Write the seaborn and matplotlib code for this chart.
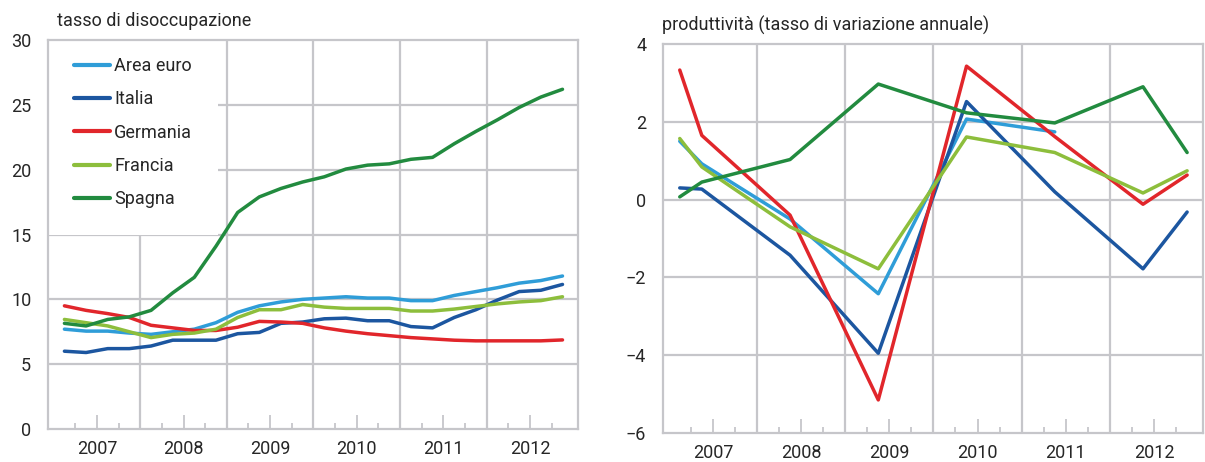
import numpy as np
import pandas as pd
import seaborn as sb
import matplotlib.pyplot as plt
from matplotlib.ticker import FixedLocator, NullFormatter

# serie trimestrali 2007Q1 - 2012Q4
trimestri = [f"{a}Q{q}" for a in range(2007, 2013) for q in range(1, 5)]

area_euro = [7.7, 7.55, 7.55, 7.4, 7.3, 7.5, 7.7, 8.2, 9.0, 9.5, 9.8, 10.0,
             10.1, 10.2, 10.1, 10.1, 9.9, 9.9, 10.3, 10.6, 10.9, 11.25, 11.45, 11.8]
italia = [6.0, 5.9, 6.2, 6.2, 6.4, 6.85, 6.85, 6.85, 7.35, 7.45, 8.15, 8.25,
          8.5, 8.55, 8.35, 8.35, 7.9, 7.8, 8.6, 9.2, 9.95, 10.6, 10.7, 11.15]
germania = [9.5, 9.15, 8.9, 8.6, 8.0, 7.8, 7.6, 7.6, 7.85, 8.3, 8.25, 8.15,
            7.8, 7.55, 7.35, 7.2, 7.05, 6.95, 6.85, 6.8, 6.8, 6.8, 6.8, 6.87]
francia = [8.45, 8.2, 7.95, 7.5, 7.05, 7.3, 7.4, 7.7, 8.6, 9.2, 9.2, 9.6,
           9.4, 9.3, 9.3, 9.3, 9.1, 9.1, 9.25, 9.45, 9.65, 9.8, 9.9, 10.2]
spagna = [8.15, 7.95, 8.45, 8.65, 9.15, 10.5, 11.7, 14.1, 16.7, 17.9, 18.55, 19.05,
          19.45, 20.05, 20.35, 20.45, 20.8, 20.95, 22.0, 22.95, 23.85, 24.8, 25.6, 26.2]

# produttivita' (tasso di variazione annuale)
periodi_prod = ["2007Q1", "2007Q2", "2008Q2", "2009Q2", "2010Q2", "2011Q2", "2012Q2", "2012Q4"]
prod_area_euro = [1.5, 0.92, -0.5, -2.42, 2.07, 1.74, np.nan, np.nan]
prod_italia = [0.3, 0.27, -1.43, -3.95, 2.52, 0.2, -1.78, -0.32]
prod_germania = [3.33, 1.65, -0.4, -5.15, 3.43, 1.62, -0.12, 0.63]
prod_francia = [1.57, 0.84, -0.7, -1.78, 1.61, 1.21, 0.17, 0.74]
prod_spagna = [0.07, 0.45, 1.03, 2.97, 2.23, 1.97, 2.9, 1.21]

paesi = ["Area euro", "Italia", "Germania", "Francia", "Spagna"]
colori = ["#2F9DD8", "#1C56A0", "#E1262B", "#8DBE3C", "#228B3F"]


def pos(p):
    # centro del trimestre in anni decimali
    return int(p[:4]) + (int(p[-1]) - 0.5) / 4


def long_df(periodi, serie):
    righe = []
    for nome, vals in zip(paesi, serie):
        for p, v in zip(periodi, vals):
            righe.append({"x": pos(p), "valore": v, "paese": nome})
    return pd.DataFrame(righe)


disocc = long_df(trimestri, [area_euro, italia, germania, francia, spagna])
prod = long_df(periodi_prod, [prod_area_euro, prod_italia, prod_germania,
                              prod_francia, prod_spagna]).dropna()

sb.set_style("white")
plt.rcParams['font.family'] = ['Roboto', 'DejaVu Sans']
grigio = "#C6C6CA"

fig = plt.figure(figsize=(12.05, 4.62), dpi=100)
ax1 = fig.add_axes([0.0398, 0.0714, 0.4398, 0.842])
ax2 = fig.add_axes([0.5502, 0.0628, 0.448, 0.842])

pal = dict(zip(paesi, colori))
sb.lineplot(data=disocc, x="x", y="valore", hue="paese", hue_order=paesi,
            palette=pal, linewidth=2.5, estimator=None, ax=ax1)
sb.lineplot(data=prod, x="x", y="valore", hue="paese", hue_order=paesi,
            palette=pal, linewidth=2.5, estimator=None, legend=False, ax=ax2)

anni = list(range(2007, 2013))
for ax, (ymin, ymax, ystep) in [(ax1, (0, 30, 5)), (ax2, (-6, 4, 2))]:
    ax.set_xlim(2006.935, 2013.053)
    ax.set_ylim(ymin, ymax)
    ax.set_yticks(np.arange(ymin, ymax + 0.1, ystep))
    ax.set_xticks([a + 0.5 for a in anni])
    ax.set_xticklabels([str(a) for a in anni])
    ax.xaxis.set_minor_locator(FixedLocator([a + f for a in anni for f in (0.25, 0.75)]))
    ax.xaxis.set_minor_formatter(NullFormatter())
    ax.set_xlabel("")
    ax.set_ylabel("")
    # griglia: verticali ai cambi d'anno, orizzontali ai tick
    for a in range(2008, 2013):
        ax.axvline(a, color=grigio, lw=1.6, zorder=0)
    for yv in np.arange(ymin + ystep, ymax, ystep):
        ax.axhline(yv, color=grigio, lw=1.6, zorder=0)
    ax.tick_params(axis="x", which="major", direction="in", length=10, width=1.3,
                   color=grigio, labelsize=13, pad=8, bottom=True)
    ax.tick_params(axis="x", which="minor", direction="in", length=4, width=1.3,
                   color=grigio, bottom=True)
    ax.tick_params(axis="y", length=0, labelsize=13, pad=12)
    for s in ax.spines.values():
        s.set_color(grigio)
        s.set_linewidth(1.6)

leg = ax1.legend(loc="upper left", bbox_to_anchor=(0.019, 0.998), borderaxespad=0,
                 frameon=True, fontsize=13, handlelength=2.0, handletextpad=0.2,
                 labelspacing=0.85, borderpad=0.9)
leg.get_frame().set_facecolor("white")
leg.get_frame().set_edgecolor("none")
leg.get_frame().set_alpha(1)
leg.get_frame().set_boxstyle("square", pad=0.55)
leg.set_zorder(2.2)
for h in leg.get_lines():
    h.set_linewidth(3)

fig.text(0.047, 0.955, "tasso di disoccupazione", fontsize=13, va="center", ha="left")
fig.text(0.549, 0.945, "produttività (tasso di variazione annuale)", fontsize=13,
         va="center", ha="left")

fig.savefig("out.png", dpi=100)
